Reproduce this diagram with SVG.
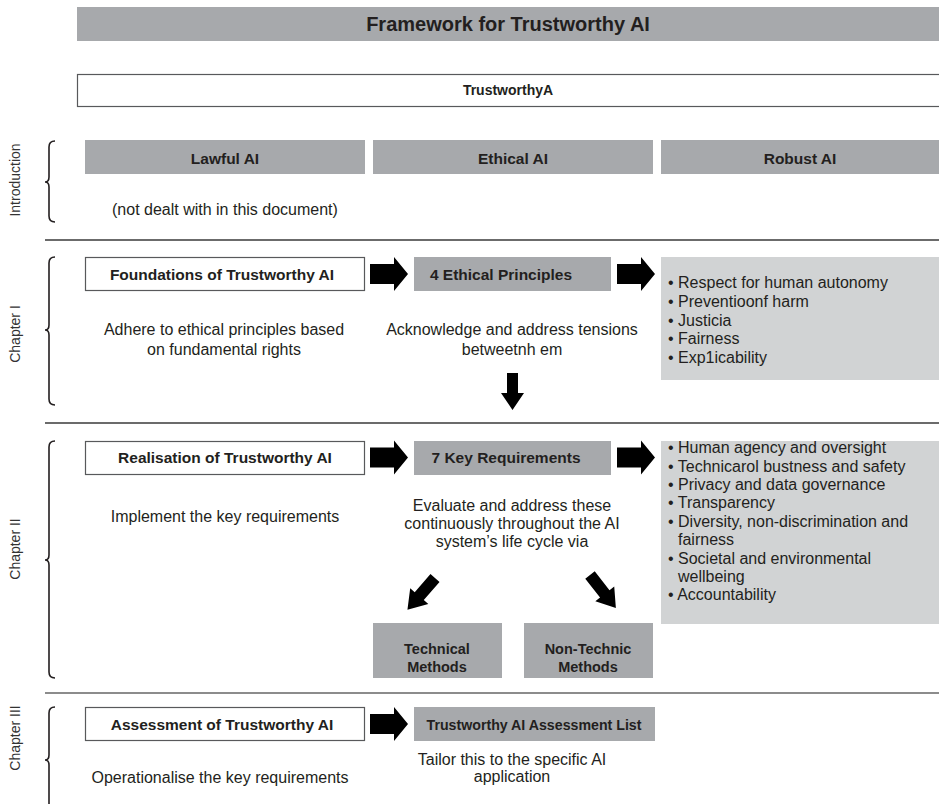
<svg xmlns="http://www.w3.org/2000/svg" xmlns:xlink="http://www.w3.org/1999/xlink" width="939" height="804" viewBox="0 0 939 804">
<style>
.bar{fill:#a7a9ac}
.lt{fill:#d1d3d4}
.wb{fill:#fff;stroke:#58595b;stroke-width:1.2}
.lbl{font-family:"Liberation Sans",Arial,sans-serif;font-weight:bold;font-size:15.5px;fill:#231f20;text-anchor:middle}
.txt{font-family:"Liberation Sans",Arial,sans-serif;font-size:16px;fill:#231f20}
.c{text-anchor:middle}
.side{font-family:"Liberation Sans",Arial,sans-serif;font-size:14px;fill:#333;text-anchor:middle}
.sep{stroke:#3a3a3a;stroke-width:1.5}
.brace{fill:none;stroke:#231f20;stroke-width:1.6}
.arr{fill:#000}
</style>
<defs>
<path id="arrowR" d="M0,-10 H24 V-17 L38,0 L24,17 V10 H0 Z"/>
<path id="arrowD" d="M0,-6 H24 V-12 L42,0 L24,12 V6 H0 Z"/>
</defs>
<rect width="939" height="804" fill="#fff"/>

<g id="title">
<rect class="bar" x="77" y="7" width="862" height="34"/>
<text class="lbl" x="508" y="31" style="font-size:20px">Framework for Trustworthy AI</text>
</g>
<g id="trustworthy">
<rect class="wb" x="77.5" y="74.5" width="863" height="32"/>
<text class="lbl" x="508" y="95" style="font-size:14px">TrustworthyA</text>
</g>

<g id="sections">
<line class="sep" x1="45" y1="240" x2="939" y2="240"/>
<line class="sep" x1="45" y1="423" x2="939" y2="423"/>
<line class="sep" x1="45" y1="693" x2="939" y2="693" style="stroke:#666"/>
<path class="brace" d="M55,141 Q49,141 49,147 L49,177 Q49,182 45,182 Q49,182 49,187 L49,216 Q49,222 55,222"/>
<path class="brace" d="M55,257 Q49,257 49,263 L49,325 Q49,330 45,330 Q49,330 49,335 L49,399 Q49,405 55,405"/>
<path class="brace" d="M55,441 Q49,441 49,447 L49,555 Q49,560 45,560 Q49,560 49,565 L49,672 Q49,678 55,678"/>
<path class="brace" d="M55,707 Q49,707 49,713 L49,755 Q49,760 45,760 Q49,760 49,765 L49,810"/>
<text class="side" transform="translate(15,180) rotate(-90)" y="5">Introduction</text>
<text class="side" transform="translate(15,334) rotate(-90)" y="5">Chapter I</text>
<text class="side" transform="translate(15,549) rotate(-90)" y="5">Chapter II</text>
<text class="side" transform="translate(15,738) rotate(-90)" y="5">Chapter III</text>
</g>

<g id="lawful">
<rect class="bar" x="85" y="140" width="280" height="34"/>
<text class="lbl" x="225" y="163.5">Lawful AI</text>
<text class="txt" x="112" y="215">(not dealt with in this document)</text>
</g>
<g id="ethical">
<rect class="bar" x="373" y="140" width="280" height="34"/>
<text class="lbl" x="513" y="163.5">Ethical AI</text>
</g>
<g id="robust">
<rect class="bar" x="661" y="140" width="279" height="34"/>
<text class="lbl" x="800" y="163.5">Robust AI</text>
</g>

<g id="foundations">
<rect class="wb" x="85.5" y="257.5" width="279" height="33"/>
<text class="lbl" x="222" y="279.5">Foundations of Trustworthy AI</text>
<text class="txt c" x="224" y="335">Adhere to ethical principles based</text>
<text class="txt c" x="224" y="355">on fundamental rights</text>
</g>
<g id="principles">
<rect class="bar" x="414" y="257" width="197" height="34"/>
<text class="lbl" x="501" y="279.5">4 Ethical Principles</text>
<text class="txt c" x="512" y="335">Acknowledge and address tensions</text>
<text class="txt c" x="512" y="355">betweetnh em</text>
</g>
<g id="principles-list">
<rect class="lt" x="661" y="257" width="279" height="123"/>
<text class="txt" x="668" y="288">• Respect for human autonomy</text>
<text class="txt" x="668" y="307">• Preventioonf harm</text>
<text class="txt" x="668" y="326">• Justicia</text>
<text class="txt" x="668" y="344">• Fairness</text>
<text class="txt" x="668" y="363">• Exp1icability</text>
</g>

<g id="realisation">
<rect class="wb" x="85.5" y="441.5" width="279" height="33"/>
<text class="lbl" x="225" y="463">Realisation of Trustworthy AI</text>
<text class="txt c" x="225" y="522">Implement the key requirements</text>
</g>
<g id="requirements">
<rect class="bar" x="414" y="441" width="197" height="34"/>
<text class="lbl" x="506" y="463">7 Key Requirements</text>
<text class="txt c" x="512" y="511">Evaluate and address these</text>
<text class="txt c" x="512" y="529">continuously throughout the AI</text>
<text class="txt c" x="512" y="547">system’s life cycle via</text>
</g>
<g id="requirements-list">
<rect class="lt" x="661" y="441" width="279" height="183"/>
<text class="txt" x="668" y="453">• Human agency and oversight</text>
<text class="txt" x="668" y="472">• Technicarol bustness and safety</text>
<text class="txt" x="668" y="490">• Privacy and data governance</text>
<text class="txt" x="668" y="508">• Transparency</text>
<text class="txt" x="668" y="527">• Diversity, non-discrimination and</text>
<text class="txt" x="678" y="545">fairness</text>
<text class="txt" x="668" y="564">• Societal and environmental</text>
<text class="txt" x="678" y="582">wellbeing</text>
<text class="txt" x="668" y="600">• Accountability</text>
</g>
<g id="technical">
<rect class="bar" x="373" y="623" width="129" height="55"/>
<text class="lbl" x="437" y="654" style="font-size:14.5px">Technical</text>
<text class="lbl" x="437" y="672" style="font-size:14.5px">Methods</text>
</g>
<g id="nontechnical">
<rect class="bar" x="524" y="623" width="129" height="55"/>
<text class="lbl" x="588" y="654" style="font-size:14.5px">Non-Technic</text>
<text class="lbl" x="588" y="672" style="font-size:14.5px">Methods</text>
</g>

<g id="assessment">
<rect class="wb" x="85.5" y="707.5" width="279" height="33"/>
<text class="lbl" x="222" y="729.5">Assessment of Trustworthy AI</text>
<text class="txt c" x="220" y="783">Operationalise the key requirements</text>
</g>
<g id="assessment-list">
<rect class="bar" x="414" y="707" width="241" height="34"/>
<text class="lbl" x="534" y="729.5" style="font-size:14.2px">Trustworthy AI Assessment List</text>
<text class="txt c" x="512" y="765">Tailor this to the specific AI</text>
<text class="txt c" x="512" y="782">application</text>
</g>

<g id="connectors" class="arr">
<use xlink:href="#arrowR" transform="translate(370,274)"/>
<use xlink:href="#arrowR" transform="translate(617,274)"/>
<path d="M507,373 H518 V393 H524 L512.5,410 L501,393 H507 Z"/>
<use xlink:href="#arrowR" transform="translate(370,457.5)"/>
<use xlink:href="#arrowR" transform="translate(617,457.5)"/>
<use xlink:href="#arrowD" transform="translate(435,578) rotate(131)"/>
<use xlink:href="#arrowD" transform="translate(590,575) rotate(52)"/>
<use xlink:href="#arrowR" transform="translate(370,724)"/>
</g>
</svg>
